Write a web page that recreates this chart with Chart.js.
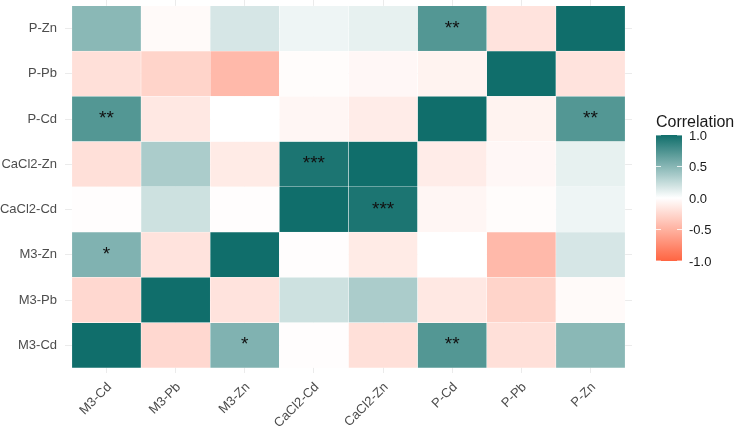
<!DOCTYPE html>
<html lang="en">
<head>
    <meta charset="UTF-8">
    <title>Correlation heatmap</title>
    <script src="https://cdn.jsdelivr.net/npm/chart.js@4.4.1/dist/chart.umd.min.js"></script>
    <style>
        body { margin: 0; background: #fff; }
        #wrap { position: relative; width: 735px; height: 426px; }
    </style>
</head>
<body>
<div id="wrap"><canvas id="heat"></canvas></div>

<script>
// variables, bottom-to-top on y and left-to-right on x
const vars = ['M3-Cd', 'M3-Pb', 'M3-Zn', 'CaCl2-Cd', 'CaCl2-Zn', 'P-Cd', 'P-Pb', 'P-Zn'];

// correlation rows (same column order as vars)
const corrM3Cd    = [1.00, -0.25,  0.53, -0.01, -0.20,  0.72, -0.20,  0.49];
const corrM3Pb    = [-0.25, 1.00, -0.18,  0.21,  0.35, -0.15, -0.28, -0.03];
const corrM3Zn    = [0.53, -0.18,  1.00, -0.01, -0.13,  0.00, -0.45,  0.17];
const corrCaCl2Cd = [-0.01, 0.21, -0.01,  1.00,  0.95, -0.06, -0.02,  0.07];
const corrCaCl2Zn = [-0.20, 0.35, -0.13,  0.95,  1.00, -0.12, -0.05,  0.10];
const corrPCd     = [0.72, -0.15,  0.00, -0.06, -0.12,  1.00, -0.08,  0.72];
const corrPPb     = [-0.20, -0.28, -0.45, -0.02, -0.05, -0.08, 1.00, -0.18];
const corrPZn     = [0.49, -0.03,  0.17,  0.07,  0.10,  0.72, -0.18,  1.00];
const corrRows = [corrM3Cd, corrM3Pb, corrM3Zn, corrCaCl2Cd, corrCaCl2Zn, corrPCd, corrPPb, corrPZn];

// significance marks: [row, column, stars]
const sigMarks = [
    ['M3-Cd', 'M3-Zn', '*'],
    ['M3-Cd', 'P-Cd', '**'],
    ['M3-Zn', 'M3-Cd', '*'],
    ['CaCl2-Cd', 'CaCl2-Zn', '***'],
    ['CaCl2-Zn', 'CaCl2-Cd', '***'],
    ['P-Cd', 'M3-Cd', '**'],
    ['P-Cd', 'P-Zn', '**'],
    ['P-Zn', 'P-Cd', '**']
];

const legendBreaks = [1.0, 0.5, 0.0, -0.5, -1.0];

const HIGH = [16, 110, 107], MID = [255, 255, 255], LOW = [255, 100, 65];
function colorFor(v) {
    const end = v >= 0 ? HIGH : LOW;
    const t = Math.min(1, Math.abs(v));
    const c = MID.map((m, i) => Math.round(m + (end[i] - m) * t));
    return 'rgb(' + c.join(',') + ')';
}

const FONT = "'Liberation Sans', Arial, sans-serif";

// stars on top of tiles
const starPlugin = {
    id: 'stars',
    afterDatasetsDraw(chart) {
        const ctx = chart.ctx, xs = chart.scales.x, ys = chart.scales.y;
        ctx.save();
        ctx.fillStyle = '#111';
        ctx.font = '19px ' + FONT;
        ctx.textAlign = 'center';
        ctx.textBaseline = 'alphabetic';
        sigMarks.forEach(([row, col, s]) => {
            const x = xs.getPixelForValue(vars.indexOf(col));
            const y = ys.getPixelForValue(vars.indexOf(row) + 0.5);
            ctx.fillText(s, x, y + 5);
        });
        ctx.restore();
    }
};

// colourbar legend on the right
const colorbarPlugin = {
    id: 'colorbar',
    afterDraw(chart) {
        const ctx = chart.ctx;
        const left = 656, w = 26, top = 135, bottom = 261;
        const pos = v => (top + bottom) / 2 - v * (bottom - top) / 2;
        ctx.save();
        ctx.fillStyle = '#1a1a1a';
        ctx.font = '16px ' + FONT;
        ctx.textAlign = 'left';
        ctx.textBaseline = 'alphabetic';
        ctx.fillText('Correlation', 656, 127);

        const grad = ctx.createLinearGradient(0, top, 0, bottom);
        for (let i = 0; i <= 40; i++) {
            grad.addColorStop(i / 40, colorFor(1 - i / 20));
        }
        ctx.fillStyle = grad;
        ctx.fillRect(left, top, w, bottom - top);

        ctx.strokeStyle = 'rgba(255,255,255,0.8)';
        ctx.lineWidth = 1;
        ctx.font = '13px ' + FONT;
        ctx.fillStyle = '#1a1a1a';
        legendBreaks.forEach(v => {
            const y = pos(v);
            ctx.beginPath();
            ctx.moveTo(left, y); ctx.lineTo(left + 5, y);
            ctx.moveTo(left + w - 5, y); ctx.lineTo(left + w, y);
            ctx.stroke();
            ctx.fillText(v.toFixed(1), 689, y + 4.5);
        });
        ctx.restore();
    }
};

const datasets = corrRows.map((row, r) => ({
    label: vars[r],
    data: row.map((v, c) => ({ x: c, y: [r, r + 1] })),
    backgroundColor: row.map(colorFor),
    borderColor: 'rgba(255,255,255,0.7)',
    borderWidth: 0.5,
    borderSkipped: false,
    barPercentage: 1,
    categoryPercentage: 1,
    grouped: false
}));

new Chart(document.getElementById('heat'), {
    type: 'bar',
    data: { datasets },
    options: {
        responsive: true,
        maintainAspectRatio: false,
        animation: false,
        layout: { padding: { left: 0, right: 103, top: 0, bottom: 0 } },
        plugins: { legend: { display: false }, tooltip: { enabled: false } },
        scales: {
            x: {
                type: 'linear',
                min: -0.6,
                max: 7.6,
                offset: false,
                afterBuildTicks: s => { s.ticks = vars.map((_, i) => ({ value: i })); },
                afterFit: s => {
                    s.height = 53.5;
                    s.paddingLeft = 0;
                    s.paddingRight = 0;
                },
                grid: { offset: false, color: '#ebebeb', lineWidth: 1, drawTicks: false },
                border: { display: false },
                ticks: {
                    autoSkip: false,
                    minRotation: 45,
                    maxRotation: 45,
                    padding: 7,
                    labelOffset: 3,
                    color: '#4d4d4d',
                    font: { family: FONT, size: 13 },
                    callback: v => vars[Math.round(v)]
                }
            },
            y: {
                type: 'linear',
                min: -0.1,
                max: 8.13,
                afterBuildTicks: s => { s.ticks = vars.map((_, i) => ({ value: i + 0.5 })); },
                afterFit: s => {
                    s.width = 65;
                    s.paddingTop = 0;
                    s.paddingBottom = 0;
                },
                grid: { color: '#ebebeb', lineWidth: 1, drawTicks: false },
                border: { display: false },
                ticks: {
                    padding: 8,
                    color: '#4d4d4d',
                    font: { family: FONT, size: 13 },
                    callback: v => vars[Math.floor(v)]
                }
            }
        }
    },
    plugins: [starPlugin, colorbarPlugin]
});
</script>
</body>
</html>
